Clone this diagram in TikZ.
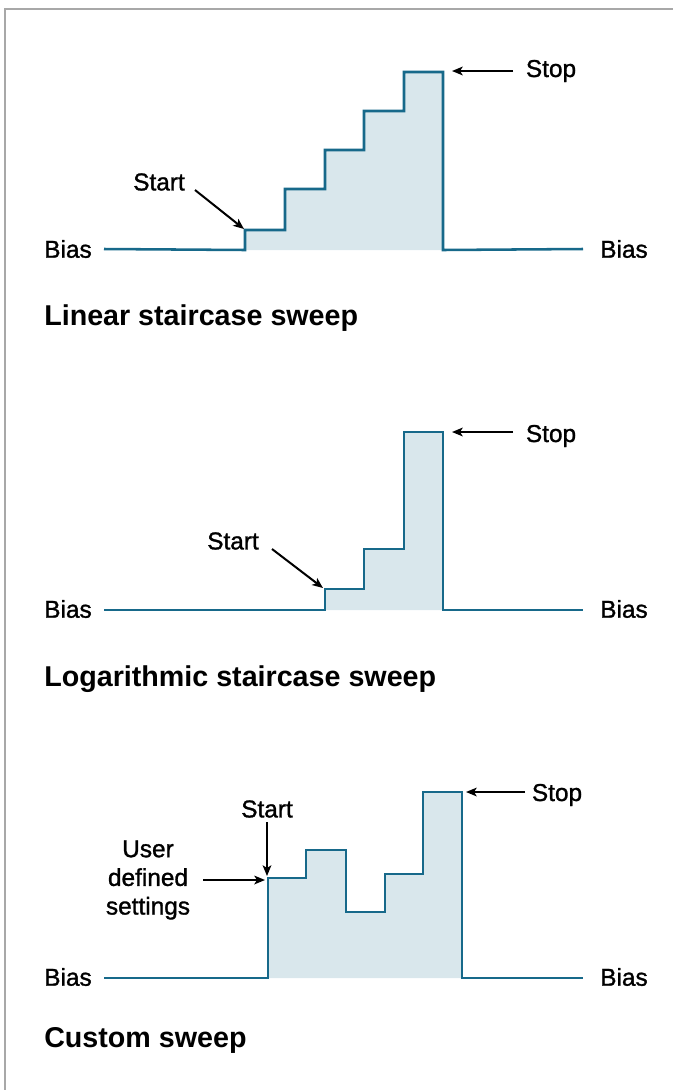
\documentclass[tikz,border=0pt]{standalone}
\usepackage{fontspec}
\setmainfont{Liberation Sans}
\newfontfamily\lblfont[FakeBold=1.2]{Liberation Sans}
\usetikzlibrary{arrows.meta}
\definecolor{sigc}{HTML}{17698A}
\definecolor{fillc}{HTML}{D9E7EC}
\definecolor{framec}{HTML}{A8A8A8}
\begin{document}
\begin{tikzpicture}[x=0.75pt,y=-0.75pt,
  sig/.style={draw=sigc, line width=1.9pt, line join=miter},
  area/.style={fill=fillc, draw=none},
  lbl/.style={font=\lblfont\fontsize{18.3}{21}\selectfont, inner sep=0pt},
  ttl/.style={font=\fontsize{21.5}{24}\selectfont\bfseries, inner sep=0pt, anchor=west},
  arr/.style={draw=black, line width=1.5pt, -{Stealth[length=8pt,width=6.5pt,inset=2pt]}}
]
\useasboundingbox (0,0) rectangle (673,1090);
\draw[framec, line width=1.1pt] (5,1100) -- (5,9) -- (690,9);

% ---------- Panel 1: linear ----------
\fill[area] (245,250) -- (245,230) -- (285,230) -- (285,189) -- (325,189) -- (325,150)
  -- (364,150) -- (364,111) -- (404,111) -- (404,72) -- (443,72) -- (443,250) -- cycle;
\draw[sig] (104,249) -- (245,250) -- (245,230) -- (285,230) -- (285,189) -- (325,189) -- (325,150)
  -- (364,150) -- (364,111) -- (404,111) -- (404,72) -- (443,72) -- (443,250) -- (583,249);
\node[lbl] (biasL1) at (68,249) {Bias};
\node[lbl] (biasR1) at (624,249) {Bias};
\node[lbl] (start1) at (159,182) {Start};
\node[lbl] (stop1) at (551,71) {Stop};
\coordinate (s1) at (244,229);
\coordinate (ta1) at (195,190);
\coordinate (p1) at (452,71);
\coordinate (tb1) at (513,71);
\draw[arr] (ta1) -- (s1);
\draw[arr] (tb1) -- (p1);
\node[ttl] (title1) at (44,318) {Linear staircase sweep};

% ---------- Panel 2: logarithmic ----------
\fill[area] (325,610) -- (325,589) -- (364,589) -- (364,549) -- (404,549) -- (404,432)
  -- (443,432) -- (443,610) -- cycle;
\draw[sig] (104,610) -- (325,610) -- (325,589) -- (364,589) -- (364,549) -- (404,549) -- (404,432)
  -- (443,432) -- (443,610) -- (583,610);
\node[lbl] (biasL2) at (68,609) {Bias};
\node[lbl] (biasR2) at (624,609) {Bias};
\node[lbl] (start2) at (233,541) {Start};
\node[lbl] (stop2) at (551,436) {Stop};
\coordinate (s2) at (323,588);
\coordinate (ta2) at (272,549);
\coordinate (p2) at (452,432);
\coordinate (tb2) at (513,432);
\draw[arr] (ta2) -- (s2);
\draw[arr] (tb2) -- (p2);
\node[ttl] (title2) at (44,679) {Logarithmic staircase sweep};

% ---------- Panel 3: custom ----------
\fill[area] (268,978) -- (268,878) -- (306,878) -- (306,850) -- (346,850) -- (346,912)
  -- (385,912) -- (385,874) -- (423,874) -- (423,792) -- (462,792) -- (462,978) -- cycle;
\draw[sig] (104,978) -- (268,978) -- (268,878) -- (306,878) -- (306,850) -- (346,850) -- (346,912)
  -- (385,912) -- (385,874) -- (423,874) -- (423,792) -- (462,792) -- (462,978) -- (583,978);
\node[lbl] (biasL3) at (68,977) {Bias};
\node[lbl] (biasR3) at (624,977) {Bias};
\node[lbl] (start3) at (267,809) {Start};
\node[lbl, align=center, font=\lblfont\fontsize{18.3}{21.5}\selectfont] (user3) at (148,880) {User\\defined\\settings};
\node[lbl] (stop3) at (557,795) {Stop};
\coordinate (s3) at (267,876);
\coordinate (u3) at (265,880);
\coordinate (p3) at (466,792);
\coordinate (ta3) at (267,822);
\coordinate (tu3) at (203,880);
\coordinate (tb3) at (525,792);
\draw[arr] (ta3) -- (s3);
\draw[arr] (tu3) -- (u3);
\draw[arr] (tb3) -- (p3);
\node[ttl] (title3) at (44,1040) {Custom sweep};
\end{tikzpicture}
\end{document}
